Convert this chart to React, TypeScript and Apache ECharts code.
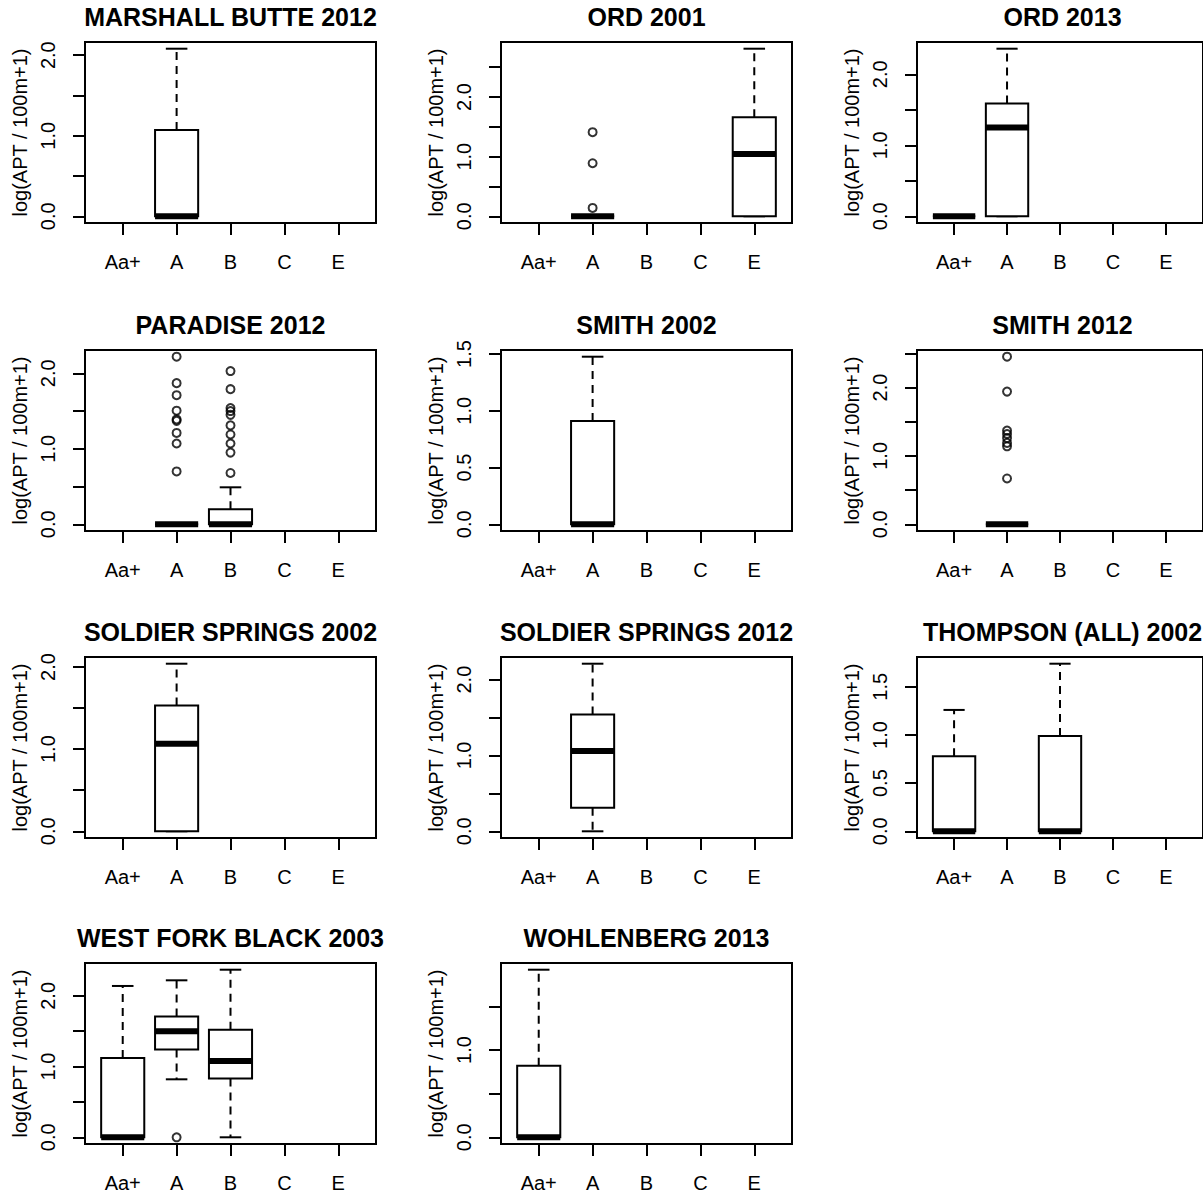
import React, { useEffect, useRef } from "react";
import * as echarts from "echarts";

// ---------- data ----------
const CATEGORIES = ["Aa+", "A", "B", "C", "E"];
const CATEGORY_POS = [1, 2, 3, 4, 5];
const Y_NAME = "log(APT / 100m+1)";

const PANEL_TITLES = [
  "MARSHALL BUTTE 2012",
  "ORD 2001",
  "ORD 2013",
  "PARADISE 2012",
  "SMITH 2002",
  "SMITH 2012",
  "SOLDIER SPRINGS 2002",
  "SOLDIER SPRINGS 2012",
  "THOMPSON (ALL) 2002",
  "WEST FORK BLACK 2003",
  "WOHLENBERG 2013",
];

// box rows: [category position, min, q1, median, q3, max]
const marshallButte2012 = [[2, 0, 0, 0, 1.07, 2.08]];
const ord2001 = [
  [2, 0, 0, 0, 0, 0],
  [5, 0, 0, 1.045, 1.66, 2.81],
];
const ord2013 = [
  [1, 0, 0, 0, 0, 0],
  [2, 0, 0, 1.25, 1.59, 2.36],
];
const paradise2012 = [
  [2, 0, 0, 0, 0, 0],
  [3, 0, 0, 0, 0.2, 0.49],
];
const smith2002 = [[2, 0, 0, 0, 0.91, 1.476]];
const smith2012 = [[2, 0, 0, 0, 0, 0]];
const soldierSprings2002 = [[2, 0, 0, 1.065, 1.53, 2.04]];
const soldierSprings2012 = [[2, 0, 0.31, 1.06, 1.54, 2.21]];
const thompson2002 = [
  [1, 0, 0, 0, 0.78, 1.26],
  [3, 0, 0, 0, 0.99, 1.74],
];
const westForkBlack2003 = [
  [1, 0, 0, 0, 1.12, 2.14],
  [2, 0.82, 1.24, 1.5, 1.71, 2.22],
  [3, 0, 0.83, 1.08, 1.52, 2.37],
];
const wohlenberg2013 = [[1, 0, 0, 0, 0.82, 1.92]];

// outliers: [category position, value]
const marshallButte2012Out: number[][] = [];
const ord2001Out = [[2, 1.41], [2, 0.89], [2, 0.14]];
const ord2013Out: number[][] = [];
const paradise2012Out = [
  [2, 2.22], [2, 1.87], [2, 1.71], [2, 1.505], [2, 1.39], [2, 1.37], [2, 1.21], [2, 1.07], [2, 0.7],
  [3, 2.03], [3, 1.79], [3, 1.54], [3, 1.5], [3, 1.45], [3, 1.31], [3, 1.19], [3, 1.07], [3, 0.95], [3, 0.68],
];
const smith2002Out: number[][] = [];
const smith2012Out = [[2, 2.45], [2, 1.94], [2, 1.37], [2, 1.32], [2, 1.26], [2, 1.19], [2, 1.14], [2, 0.67]];
const soldierSprings2002Out: number[][] = [];
const soldierSprings2012Out: number[][] = [];
const thompson2002Out: number[][] = [];
const westForkBlack2003Out = [[2, 0]];
const wohlenberg2013Out: number[][] = [];

// y ticks and labelled ticks
const TICKS_15 = [0, 0.5, 1, 1.5];
const TICKS_20 = [0, 0.5, 1, 1.5, 2];
const TICKS_25 = [0, 0.5, 1, 1.5, 2, 2.5];
const LABELS_012 = [0, 1, 2];
const LABELS_ALL15 = [0, 0.5, 1, 1.5];
const LABELS_01 = [0, 1];

const PANEL_BOXES = [
  marshallButte2012, ord2001, ord2013, paradise2012, smith2002, smith2012,
  soldierSprings2002, soldierSprings2012, thompson2002, westForkBlack2003, wohlenberg2013,
];
const PANEL_OUTLIERS = [
  marshallButte2012Out, ord2001Out, ord2013Out, paradise2012Out, smith2002Out, smith2012Out,
  soldierSprings2002Out, soldierSprings2012Out, thompson2002Out, westForkBlack2003Out, wohlenberg2013Out,
];
const PANEL_TICKS = [
  TICKS_20, TICKS_25, TICKS_20, TICKS_20, TICKS_15, TICKS_25,
  TICKS_20, TICKS_20, TICKS_15, TICKS_20, TICKS_15,
];
const PANEL_LABELS = [
  LABELS_012, LABELS_012, LABELS_012, LABELS_012, LABELS_ALL15, LABELS_012,
  LABELS_012, LABELS_012, LABELS_ALL15, LABELS_012, LABELS_01,
];

// ---------- layout ----------
const COL_LEFT = [85, 501, 917];
const ROW_TOP = [42, 350, 657, 963];
const PLOT_W = 291;
const PLOT_H = 181;
const FONT = "'Liberation Sans', Arial, sans-serif";

function buildOption() {
  const grid: any[] = [];
  const xAxis: any[] = [];
  const yAxis: any[] = [];
  const series: any[] = [];
  const title: any[] = [];

  PANEL_TITLES.forEach((t, i) => {
    const left = COL_LEFT[i % 3];
    const top = ROW_TOP[Math.floor(i / 3)];
    const boxes = PANEL_BOXES[i];
    const outs = PANEL_OUTLIERS[i];
    const vals: number[] = [];
    boxes.forEach((b) => vals.push(b[1], b[5]));
    outs.forEach((o) => vals.push(o[1]));
    const lo = Math.min(...vals);
    const hi = Math.max(...vals);
    const pad = (hi - lo) * 0.04;

    grid.push({
      left, top, width: PLOT_W, height: PLOT_H,
      show: true, borderColor: "#000", borderWidth: 2, backgroundColor: "transparent",
    });
    title.push({
      text: t,
      left: left + PLOT_W / 2,
      top: top - 38,
      textAlign: "center",
      padding: 0,
      textStyle: { fontFamily: FONT, fontSize: 25, fontWeight: "bold", color: "#000" },
    });
    xAxis.push({
      gridIndex: i,
      type: "value",
      min: 0.3,
      max: 5.7,
      axisLine: { show: false, onZero: false },
      splitLine: { show: false },
      axisTick: {
        show: true, customValues: CATEGORY_POS, length: 12, inside: false,
        lineStyle: { color: "#000", width: 2 },
      },
      axisLabel: {
        customValues: CATEGORY_POS,
        margin: 29,
        fontFamily: FONT, fontSize: 20, color: "#000",
        formatter: (v: number) => CATEGORIES[Math.round(v) - 1] ?? "",
      },
    });
    yAxis.push({
      gridIndex: i,
      type: "value",
      min: lo - pad,
      max: hi + pad,
      name: Y_NAME,
      nameLocation: "middle",
      nameRotate: 90,
      nameGap: 55,
      nameTextStyle: { fontFamily: FONT, fontSize: 20, color: "#000" },
      axisLine: { show: false, onZero: false },
      splitLine: { show: false },
      axisTick: {
        show: true, customValues: PANEL_TICKS[i], length: 12, inside: false,
        lineStyle: { color: "#000", width: 2 },
      },
      axisLabel: {
        customValues: PANEL_LABELS[i],
        rotate: 90,
        margin: 27,
        fontFamily: FONT, fontSize: 20, color: "#000",
        formatter: (v: number) => v.toFixed(1),
      },
    });
    series.push({
      type: "custom",
      xAxisIndex: i,
      yAxisIndex: i,
      clip: false,
      encode: { x: 0, y: [1, 2, 3, 4, 5] },
      data: boxes,
      renderItem: (params: any, api: any) => {
        const x = api.value(0);
        const mn = api.value(1), q1 = api.value(2), md = api.value(3), q3 = api.value(4), mx = api.value(5);
        const cx = api.coord([x, 0])[0];
        const bl = api.coord([x - 0.4, 0])[0];
        const br = api.coord([x + 0.4, 0])[0];
        const sl = api.coord([x - 0.2, 0])[0];
        const sr = api.coord([x + 0.2, 0])[0];
        const y = (v: number) => api.coord([x, v])[1];
        const stroke = { stroke: "#000", lineWidth: 2, fill: null };
        const dashed = { stroke: "#000", lineWidth: 2, lineDash: [8, 6], fill: null };
        const children: any[] = [
          { type: "line", shape: { x1: cx, y1: y(q3), x2: cx, y2: y(mx) }, style: dashed },
          { type: "line", shape: { x1: cx, y1: y(q1), x2: cx, y2: y(mn) }, style: dashed },
          { type: "line", shape: { x1: sl, y1: y(mx), x2: sr, y2: y(mx) }, style: stroke },
          { type: "line", shape: { x1: sl, y1: y(mn), x2: sr, y2: y(mn) }, style: stroke },
          {
            type: "rect",
            shape: { x: bl, y: y(q3), width: br - bl, height: y(q1) - y(q3) },
            style: { stroke: "#000", lineWidth: 2, fill: "#fff" },
          },
          {
            type: "line",
            shape: { x1: bl, y1: y(md), x2: br, y2: y(md) },
            style: { stroke: "#000", lineWidth: 6, lineCap: "butt" },
          },
        ];
        return { type: "group", children };
      },
    });
    if (outs.length) {
      series.push({
        type: "scatter",
        xAxisIndex: i,
        yAxisIndex: i,
        data: outs,
        symbol: "circle",
        symbolSize: 8,
        itemStyle: { color: "rgba(0,0,0,0)", borderColor: "#000", borderWidth: 2 },
        z: 5,
      });
    }
  });

  return {
    animation: false,
    backgroundColor: "#fff",
    title,
    grid,
    xAxis,
    yAxis,
    series,
  };
}

export default function App() {
  const ref = useRef<HTMLDivElement>(null);
  useEffect(() => {
    if (!ref.current) return;
    const chart = echarts.init(ref.current, undefined, { renderer: "svg" });
    chart.setOption(buildOption() as any);
    return () => chart.dispose();
  }, []);
  return (
    <div
      ref={ref}
      style={{ position: "absolute", left: 0, top: 0, width: 1203, height: 1196, background: "#fff" }}
    />
  );
}
